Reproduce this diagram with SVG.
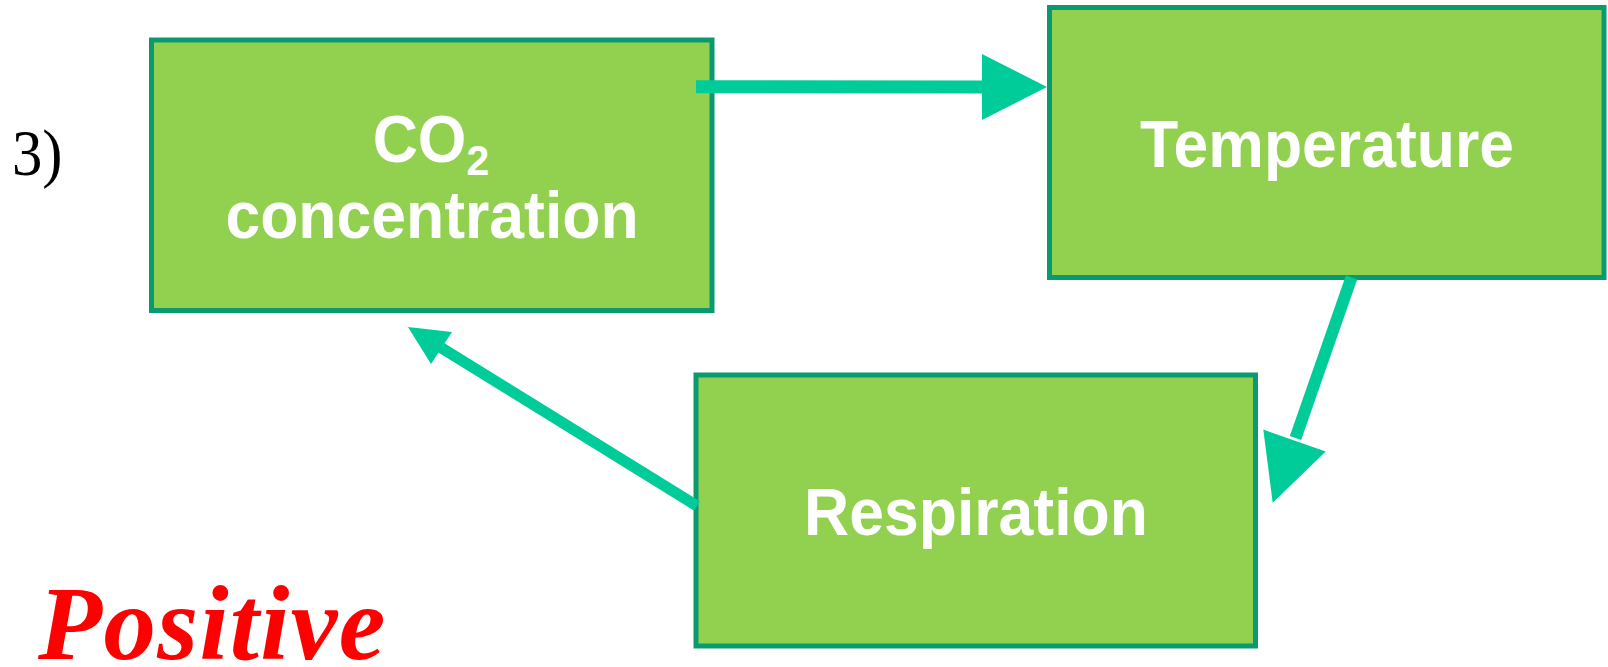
<svg xmlns="http://www.w3.org/2000/svg" width="1608" height="667" viewBox="0 0 1608 667">
<style>
.box{fill:#92D050;stroke:#0A9A70;stroke-width:5}
.lbl{font-family:"Liberation Sans",Arial,sans-serif;font-weight:bold;font-size:62.5px;fill:#FFFFFF;text-anchor:middle}
.conn{stroke:#00CC99;fill:none}
.head{fill:#00CC99}
</style>
<rect width="1608" height="667" fill="#FFFFFF"/>
<text transform="translate(12,175) scale(0.98,1.04)" font-family="Liberation Serif,'Times New Roman',serif" font-size="62" fill="#000000">3)</text>
<g id="node-co2">
<rect class="box" x="151.5" y="40" width="560.5" height="270.5"/>
<text class="lbl" transform="translate(431,161.5) scale(1,1.06)">CO<tspan font-size="41" dy="13">2</tspan></text>
<text class="lbl" transform="translate(432,237.5) scale(1,1.07)">concentration</text>
</g>
<g id="node-temperature">
<rect class="box" x="1049.5" y="7.5" width="554.5" height="270"/>
<text class="lbl" transform="translate(1327,167) scale(1,1.07)">Temperature</text>
</g>
<g id="node-respiration">
<rect class="box" x="696" y="375" width="559.5" height="271"/>
<text class="lbl" transform="translate(976,535) scale(1,1.07)">Respiration</text>
</g>
<g id="connectors">
<line class="conn" x1="696" y1="86.7" x2="984" y2="87" stroke-width="13"/>
<polygon class="head" points="982,54 1047,87 982,120"/>
<line class="conn" x1="1351.5" y1="277.5" x2="1295.5" y2="438" stroke-width="12"/>
<polygon class="head" points="1263.3,429.6 1325.7,451.4 1272.7,502.8"/>
<line class="conn" x1="697" y1="506" x2="440" y2="347" stroke-width="11"/>
<polygon class="head" points="408,327 452,332 431,364"/>
</g>
<text x="38" y="659" font-family="Liberation Serif,'Times New Roman',serif" font-weight="bold" font-style="italic" font-size="105" letter-spacing="1.3" fill="#FF0000">Positive</text>
</svg>
